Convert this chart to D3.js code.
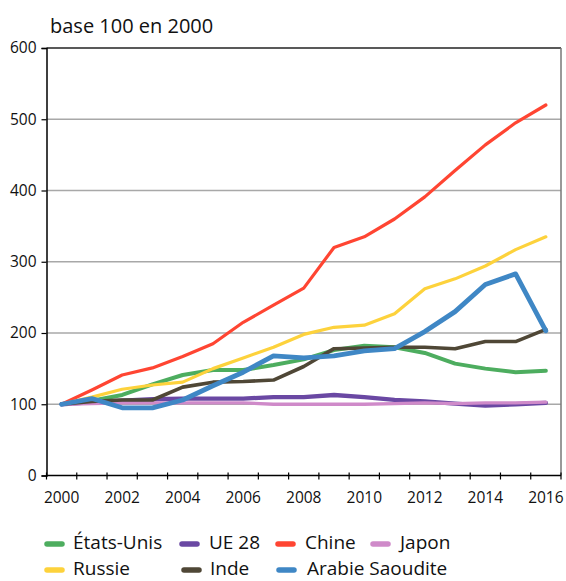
<!DOCTYPE html>
<html>
<head>
<meta charset="utf-8">
<script src="https://cdn.jsdelivr.net/npm/d3@7/dist/d3.min.js"></script>
<style>
  html, body { margin: 0; padding: 0; background: #fff; }
  svg { display: block; font-family: "Open Sans", "Noto Sans", sans-serif; }
</style>
</head>
<body>
<svg id="chart" width="566" height="581"></svg>
<script>
// Years on the category axis
const years = d3.range(2000, 2017);
const yTicks = [0, 100, 200, 300, 400, 500, 600];
const xLabelYears = [2000, 2002, 2004, 2006, 2008, 2010, 2012, 2014, 2016];

// Index values, base 100 in 2000
const etatsUnis = [100, 105, 113, 128, 141, 148, 148, 155, 163, 176, 182, 180, 172, 157, 150, 145, 147];
const ue28      = [100, 103, 105, 107, 108, 108, 108, 110, 110, 113, 110, 106, 104, 101, 98, 100, 102];
const chine     = [100, 120, 141, 151, 167, 185, 215, 239, 263, 320, 335, 360, 391, 428, 464, 495, 520];
const japon     = [100, 101, 102, 102, 102, 102, 102, 100, 100, 100, 100, 101, 102, 101, 102, 102, 103];
const russie    = [100, 110, 121, 127, 131, 150, 165, 180, 198, 208, 211, 227, 262, 276, 294, 317, 335];
const inde      = [100, 104, 106, 106, 124, 131, 132, 134, 153, 178, 179, 180, 180, 178, 188, 188, 205];
const arabie    = [100, 108, 95, 95, 106, 126, 145, 168, 165, 168, 175, 178, 202, 230, 268, 283, 203];

const seriesNames = ["États-Unis", "UE 28", "Chine", "Japon", "Russie", "Inde", "Arabie Saoudite"];
const seriesValues = [etatsUnis, ue28, chine, japon, russie, inde, arabie];
const seriesColors = ["#4dad5f", "#6a48a3", "#ff4532", "#cf8ac9", "#fdd23c", "#4f4736", "#3f87c5"];
const seriesWidths = [4, 4.3, 3.2, 3.3, 3.2, 3.6, 4.8];

const svg = d3.select("#chart");

const plotLeft = 46.5, plotRight = 561, plotTop = 48, plotBottom = 475.5;

const x = d3.scaleBand().domain(years).range([plotLeft, plotRight]).padding(0);
const xc = d => x(d) + x.bandwidth() / 2;
const y = d3.scaleLinear().domain([0, 600]).range([plotBottom, plotTop]);

// Horizontal gridlines
svg.append("g")
  .selectAll("line")
  .data(yTicks.filter(t => t > 0 && t < 600))
  .join("line")
  .attr("x1", plotLeft).attr("x2", plotRight)
  .attr("y1", d => y(d)).attr("y2", d => y(d))
  .attr("stroke", "#a8a8a8").attr("stroke-width", 1.5);

// Plot frame: top and right edges
svg.append("line")
  .attr("x1", plotLeft).attr("x2", plotRight).attr("y1", y(600)).attr("y2", y(600))
  .attr("stroke", "#222").attr("stroke-width", 1.5);
svg.append("line")
  .attr("x1", plotRight).attr("x2", plotRight).attr("y1", y(600)).attr("y2", plotBottom)
  .attr("stroke", "#777").attr("stroke-width", 1.5);

// Series lines
const line = d3.line().x((d, i) => xc(years[i])).y(d => y(d));
svg.append("g")
  .selectAll("path")
  .data(seriesValues)
  .join("path")
  .attr("d", d => line(d))
  .attr("fill", "none")
  .attr("stroke", (d, i) => seriesColors[i])
  .attr("stroke-width", (d, i) => seriesWidths[i])
  .attr("stroke-linejoin", "round")
  .attr("stroke-linecap", "round");

// Y axis
const yAxis = svg.append("g")
  .attr("transform", `translate(${plotLeft},0)`)
  .call(d3.axisLeft(y).tickValues(yTicks).tickSize(5).tickPadding(5).tickFormat(d3.format("d")));
yAxis.select(".domain").attr("stroke", "#000").attr("stroke-width", 1.5);
yAxis.selectAll(".tick line").attr("stroke", "#000").attr("stroke-width", 1.2);
yAxis.selectAll(".tick text")
  .attr("font-family", "'Open Sans', sans-serif")
  .attr("font-size", 15.5).attr("fill", "#111");

// X axis line with ticks at category boundaries
const xb = d3.scaleLinear().domain([0, years.length]).range([plotLeft, plotRight]);
svg.append("line")
  .attr("x1", plotLeft).attr("x2", plotRight).attr("y1", plotBottom).attr("y2", plotBottom)
  .attr("stroke", "#000").attr("stroke-width", 1.5);
svg.append("g")
  .selectAll("line")
  .data(d3.range(years.length + 1))
  .join("line")
  .attr("x1", d => xb(d)).attr("x2", d => xb(d))
  .attr("y1", plotBottom - 3).attr("y2", plotBottom + 4)
  .attr("stroke", "#000").attr("stroke-width", 1.2);

// X labels every other year
svg.append("g")
  .selectAll("text")
  .data(xLabelYears)
  .join("text")
  .attr("x", d => xc(d)).attr("y", 503)
  .attr("text-anchor", "middle")
  .attr("font-size", 15.5).attr("fill", "#111")
  .text(d => d);

// Unit label
svg.append("text")
  .attr("x", 50).attr("y", 33)
  .attr("font-size", 20).attr("fill", "#111")
  .text("base 100 en 2000");

// Legend in two rows
const legendPos = [
  { mx: 47, tx: 73, ty: 549 },
  { mx: 182, tx: 209, ty: 549 },
  { mx: 278, tx: 305, ty: 549 },
  { mx: 373, tx: 400, ty: 549 },
  { mx: 47, tx: 73, ty: 575 },
  { mx: 184, tx: 210, ty: 575 },
  { mx: 279, tx: 307, ty: 575 }
];
const legend = svg.append("g")
  .selectAll("g")
  .data(seriesNames)
  .join("g");
legend.append("line")
  .attr("x1", (d, i) => legendPos[i].mx)
  .attr("x2", (d, i) => legendPos[i].mx + 15)
  .attr("y1", (d, i) => legendPos[i].ty - 5)
  .attr("y2", (d, i) => legendPos[i].ty - 5)
  .attr("stroke", (d, i) => seriesColors[i])
  .attr("stroke-width", 5.5)
  .attr("stroke-linecap", "round");
legend.append("text")
  .attr("x", (d, i) => legendPos[i].tx)
  .attr("y", (d, i) => legendPos[i].ty)
  .attr("font-size", 19).attr("fill", "#111")
  .text(d => d);
</script>
</body>
</html>
